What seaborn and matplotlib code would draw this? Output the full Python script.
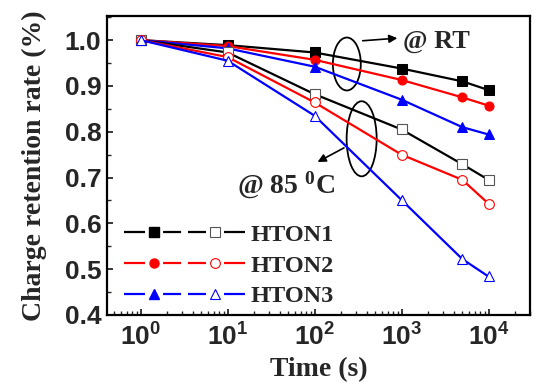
import numpy as np
import pandas as pd
import matplotlib
matplotlib.use("Agg")
import matplotlib.pyplot as plt
import seaborn as sns
from matplotlib.lines import Line2D
from matplotlib.patches import Ellipse
from matplotlib.legend_handler import HandlerTuple
from matplotlib.ticker import FixedLocator, MultipleLocator, LogLocator, NullFormatter

# --- Data ---
time_s = [1, 10, 100, 1000, 5000, 10000]
hton1_rt = [1.0, 0.989, 0.973, 0.938, 0.910, 0.891]
hton2_rt = [1.0, 0.987, 0.957, 0.913, 0.875, 0.857]
hton3_rt = [1.0, 0.982, 0.942, 0.870, 0.810, 0.794]
hton1_85 = [1.0, 0.973, 0.882, 0.805, 0.729, 0.695]
hton2_85 = [1.0, 0.963, 0.864, 0.750, 0.695, 0.643]
hton3_85 = [1.0, 0.955, 0.835, 0.651, 0.522, 0.484]

sample_names = ["HTON1", "HTON2", "HTON3"]
sample_colors = ["#000000", "#ff0000", "#0000ff"]
sample_markers = ["s", "o", "^"]
x_tick_values = [1, 10, 100, 1000, 10000]
x_tick_labels = [r"$\mathbf{10^{0}}$", r"$\mathbf{10^{1}}$", r"$\mathbf{10^{2}}$",
                 r"$\mathbf{10^{3}}$", r"$\mathbf{10^{4}}$"]
y_tick_values = [0.4, 0.5, 0.6, 0.7, 0.8, 0.9, 1.0]

# --- Style ---
sns.set_theme(style="ticks")
plt.rcParams["font.family"] = ["Liberation Serif", "DejaVu Serif"]
plt.rcParams["mathtext.fontset"] = "custom"
plt.rcParams["mathtext.rm"] = "Liberation Serif:bold"
plt.rcParams["mathtext.bf"] = "Liberation Sans:bold"
plt.rcParams["mathtext.default"] = "rm"

fig, ax = plt.subplots(figsize=(5.36, 3.86), dpi=100)
fig.subplots_adjust(left=0.1996, right=0.9888, bottom=0.184, top=0.959)

rt_series = [hton1_rt, hton2_rt, hton3_rt]
ht_series = [hton1_85, hton2_85, hton3_85]

for vals, c, m in zip(rt_series, sample_colors, sample_markers):
    sns.lineplot(x=time_s, y=vals, ax=ax, color=c, marker=m, markersize=6.5,
                 markerfacecolor=c, markeredgecolor=c, linewidth=1.6)
for vals, c, m in zip(ht_series, sample_colors, sample_markers):
    ec = "#555555" if c == "#000000" else c
    sns.lineplot(x=time_s, y=vals, ax=ax, color=c, marker=m, markersize=7,
                 markerfacecolor="white", markeredgecolor=ec, markeredgewidth=0.8,
                 linewidth=1.6)

# --- Axes ---
ax.set_xscale("log")
ax.set_xlim(0.41, 3.0e4)
ax.set_ylim(0.4, 1.053)
ax.xaxis.set_major_locator(FixedLocator(x_tick_values))
ax.set_xticklabels(x_tick_labels)
ax.xaxis.set_minor_locator(LogLocator(base=10, subs=np.arange(2, 10)))
ax.xaxis.set_minor_formatter(NullFormatter())
ax.yaxis.set_major_locator(FixedLocator(y_tick_values))
ax.yaxis.set_minor_locator(MultipleLocator(0.05))
ax.set_yticklabels([f"{v:.1f}" for v in y_tick_values])

ax.tick_params(axis="both", which="major", direction="in", length=4, width=1.3)
ax.tick_params(axis="both", which="minor", direction="in", length=3, width=1.0)
ax.tick_params(axis="x", which="major", labelsize=19, pad=6)
ax.tick_params(axis="y", which="major", labelsize=19, pad=4)
for lab in ax.get_yticklabels():
    lab.set_fontfamily("Liberation Sans")
    lab.set_fontweight("bold")
for sp in ax.spines.values():
    sp.set_linewidth(1.6)
    sp.set_color("black")

ax.set_xlabel("Time (s)", fontsize=20, fontweight="bold", labelpad=5)
ax.set_ylabel("Charge retention rate (%)", fontsize=20, fontweight="bold", labelpad=13)

# --- Legend: filled (RT) and open (85 C) markers on one dashed line ---
k = 2.22  # px per dash unit (linewidth 1.6 pt)
dash_a = (0, (21 / k, 18 / k, 18 / k, 100 / k))
dash_b = (136 / k, (18 / k, 18 / k, 100 / k, 3 / k))
handles = []
for c, m in zip(sample_colors, sample_markers):
    ec = "#555555" if c == "#000000" else c
    h_fill = Line2D([], [], color=c, marker=m, markersize=6.5, markerfacecolor=c,
                    markeredgecolor=c, linewidth=1.6, linestyle=dash_a)
    h_open = Line2D([], [], color=c, marker=m, markersize=7, markerfacecolor="white",
                    markeredgecolor=ec, markeredgewidth=0.8, linewidth=1.6,
                    linestyle=dash_b)
    handles.append((h_fill, h_open))
leg = ax.legend(handles, sample_names, handler_map={tuple: HandlerTuple(ndivide=None, pad=0)},
                loc="lower left", bbox_to_anchor=(0.04, 0.025), frameon=False,
                numpoints=1, handlelength=5.0, handletextpad=0.22, labelspacing=0.36,
                borderpad=0, borderaxespad=0,
                prop={"family": "Liberation Serif", "weight": "bold", "size": 17.5})

# --- Annotations ---
ax.add_patch(Ellipse((0.567, 0.839), 0.066, 0.177, transform=ax.transAxes,
                     fill=False, edgecolor="black", linewidth=1.3))
ax.add_patch(Ellipse((0.602, 0.589), 0.071, 0.251, transform=ax.transAxes,
                     fill=False, edgecolor="black", linewidth=1.3))
ax.annotate("", xy=(0.693, 0.926), xytext=(0.598, 0.916), xycoords="axes fraction",
            arrowprops=dict(arrowstyle="-|>", color="black", lw=1.2, mutation_scale=12))
ax.annotate("", xy=(0.492, 0.507), xytext=(0.566, 0.563), xycoords="axes fraction",
            arrowprops=dict(arrowstyle="-|>", color="black", lw=1.2, mutation_scale=12))
ax.text(0.700, 0.893, "@ RT", transform=ax.transAxes, ha="left", va="baseline",
        fontsize=19, fontweight="bold")
ax.text(0.307, 0.408, r"@ 85 $^{0}$C", transform=ax.transAxes, ha="left", va="baseline",
        fontsize=20, fontweight="bold")

fig.savefig("out.png", dpi=100)
plt.close(fig)
